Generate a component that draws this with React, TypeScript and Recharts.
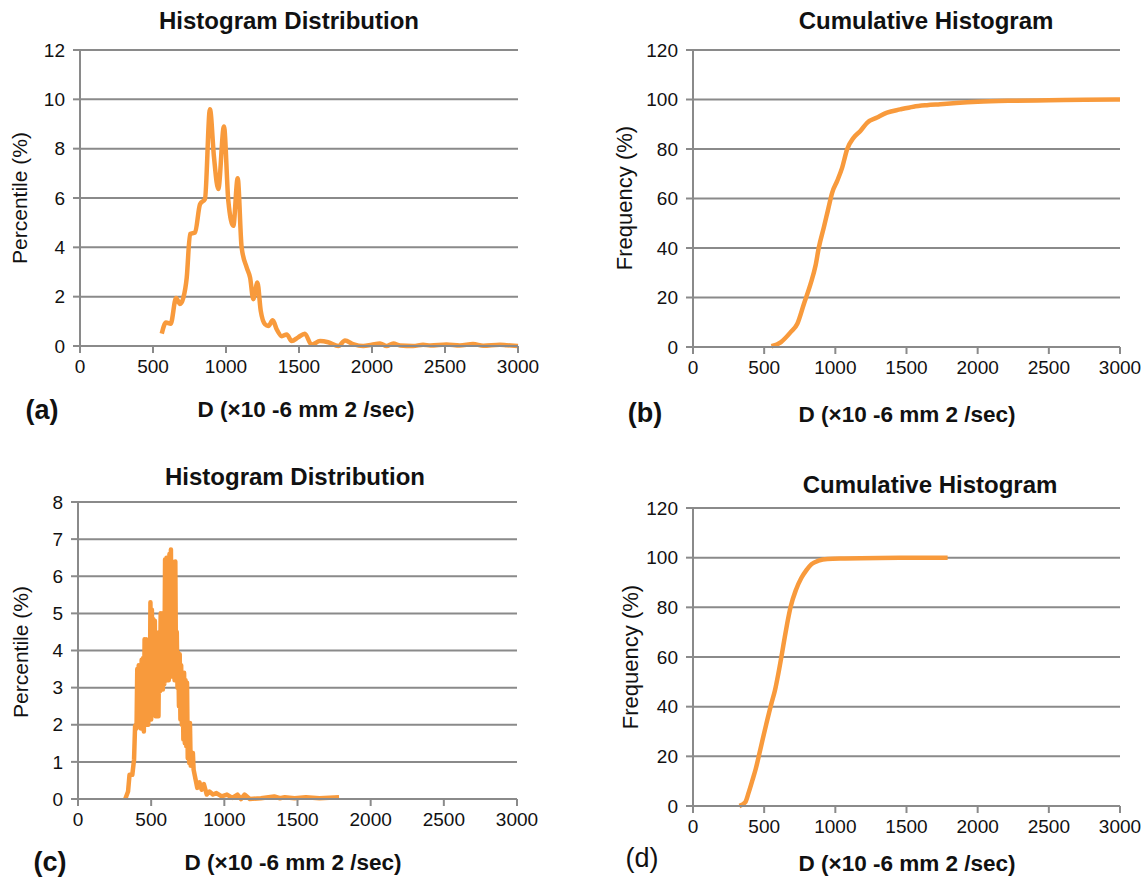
import React from 'react';
import { LineChart, Line, XAxis, YAxis, CartesianGrid } from 'recharts';

// (a) histogram distribution
const aD = [560, 589, 621, 658, 685, 708, 731, 754, 788, 822, 856, 890, 918, 947, 986, 1016, 1050, 1080, 1107, 1142, 1165, 1187, 1215, 1238, 1267, 1290, 1320, 1347, 1382, 1416, 1450, 1494, 1540, 1586, 1644, 1700, 1770, 1815, 1870, 1940, 1998, 2055, 2100, 2146, 2192, 2282, 2350, 2400, 2510, 2602, 2692, 2762, 2876, 2922, 3000];
const aPct = [0.5, 0.95, 0.9, 1.95, 1.7, 1.96, 2.77, 4.54, 4.6, 5.75, 5.96, 9.6, 7.64, 6.36, 8.9, 5.88, 4.87, 6.8, 4.0, 3.18, 2.77, 1.9, 2.57, 1.42, 0.88, 0.81, 1.04, 0.68, 0.4, 0.47, 0.2, 0.35, 0.5, 0.05, 0.2, 0.15, 0.0, 0.22, 0.08, 0.0, 0.05, 0.1, 0.0, 0.1, 0.02, 0.0, 0.05, 0.02, 0.06, 0.02, 0.08, 0.01, 0.05, 0.03, 0.0];

// (b) cumulative
const bD = [551, 616, 686, 733, 779, 826, 861, 884, 919, 947, 978, 1013, 1048, 1083, 1129, 1176, 1223, 1293, 1363, 1456, 1549, 1643, 1736, 1850, 2000, 2250, 2500, 2750, 3000];
const bFreq = [0.3, 1.9, 6, 9.4, 17.4, 25.5, 32.9, 40.2, 48.3, 55, 62.4, 67.1, 72.5, 79.9, 84.6, 87.3, 90.6, 92.7, 94.7, 96, 97.1, 97.7, 98.1, 98.6, 99.1, 99.5, 99.7, 99.9, 100];

// (c) histogram distribution (noisy, read as alternating highs / lows)
const cD = [
  323, 342, 352, 371, 383, 390,
  395, 400, 405, 410, 415, 420, 425, 430, 435, 440, 445, 450, 455, 460, 465, 470, 475, 480, 485, 490,
  495, 500, 505, 510, 515, 520, 525, 530, 535, 540, 545, 550, 555, 560, 565, 570, 575, 580, 585, 590,
  595, 600, 605, 610, 615, 620, 625, 630, 635, 640, 645, 650, 655, 660, 665, 670, 675, 680, 685, 690,
  695, 700, 705, 710, 715, 720, 725, 730, 735, 740, 745, 750, 755, 760, 765, 770, 775, 780, 785, 790,
  805, 815, 830, 845, 860, 880, 898, 922, 946, 982, 1018, 1054, 1090, 1114, 1138, 1174, 1250, 1341, 1380, 1413, 1480, 1557, 1650, 1784,
];
const cPct = [
  0, 0.2, 0.65, 0.65, 1.06, 1.96,
  2.0, 1.9, 3.5, 2.0, 3.6, 2.1, 3.5, 1.9, 3.75, 2.0, 3.8, 1.82, 4.3, 2.0, 4.3, 2.1, 3.9, 2.0, 3.8, 2.2,
  5.3, 2.14, 5.1, 2.3, 4.84, 2.3, 4.8, 2.23, 4.3, 2.3, 4.1, 2.23, 4.5, 2.9, 5.0, 3.0, 5.0, 2.95, 4.2, 3.1,
  6.45, 3.2, 6.5, 3.3, 6.45, 3.2, 6.6, 3.3, 6.72, 3.3, 6.4, 3.3, 6.36, 3.2, 6.4, 3.3, 4.5, 3.0, 3.94, 2.5,
  3.9, 2.14, 3.6, 2.0, 3.4, 1.6, 3.4, 1.5, 3.2, 1.42, 3.13, 1.1, 2.05, 0.97, 2.05, 0.9, 1.24, 0.88, 1.24, 0.79,
  0.5, 0.3, 0.45, 0.25, 0.4, 0.12, 0.2, 0.12, 0.16, 0.07, 0.12, 0.03, 0.12, 0, 0.12, 0, 0.02, 0.07, 0.02, 0.05, 0.02, 0.05, 0.02, 0.05,
];

// (d) cumulative
const dD = [326, 368, 392, 417, 441, 466, 490, 515, 551, 576, 600, 625, 645, 662, 686, 723, 760, 797, 833, 882, 944, 1066, 1311, 1789];
const dFreq = [0, 1.6, 5.6, 10.3, 15, 21, 27, 33, 41.3, 46.6, 53.4, 61.4, 68.1, 73.5, 80.2, 87, 91.7, 95, 97.4, 98.8, 99.5, 99.7, 99.9, 100];

const xTicks = [0, 500, 1000, 1500, 2000, 2500, 3000];
const pctTicksA = [0, 2, 4, 6, 8, 10, 12];
const pctTicksC = [0, 1, 2, 3, 4, 5, 6, 7, 8];
const freqTicks = [0, 20, 40, 60, 80, 100, 120];

const xLabel = 'D (×10 -6 mm 2 /sec)';
const FONT = '"Liberation Sans", Arial, Helvetica, sans-serif';
const ORANGE = '#F89A3C';
const GREY = '#8a8a8a';

const toPoints = (xs: number[], ys: number[]) => xs.map((x, i) => ({ x, y: ys[i] }));

function Txt({ x, y, size, bold, rotate, children }: any) {
  return (
    <div
      style={{
        position: 'absolute',
        left: x,
        top: y,
        transform: `translate(-50%, -50%)${rotate ? ' rotate(-90deg)' : ''}`,
        fontSize: size,
        fontWeight: bold ? 'bold' : 'normal',
        fontFamily: FONT,
        whiteSpace: 'nowrap',
        color: '#111',
      }}
    >
      {children}
    </div>
  );
}

function Panel({ left, top, width, height, margin, data, yDomain, yTicks, curve }: any) {
  const tick = { fontSize: 19, fill: '#111', fontFamily: FONT };
  return (
    <div style={{ position: 'absolute', left, top }}>
      <LineChart width={width} height={height} data={data} margin={margin}>
        <CartesianGrid horizontal vertical={false} stroke={GREY} strokeWidth={2} />
        <XAxis
          type="number"
          dataKey="x"
          domain={[0, 3000]}
          ticks={xTicks}
          interval={0}
          height={40}
          tickSize={7}
          tickMargin={7}
          tick={tick}
          axisLine={{ stroke: GREY, strokeWidth: 2 }}
          tickLine={{ stroke: GREY, strokeWidth: 2 }}
        />
        <YAxis
          type="number"
          domain={yDomain}
          ticks={yTicks}
          interval={0}
          width={60}
          tickSize={7}
          tickMargin={8}
          tick={tick}
          axisLine={{ stroke: GREY, strokeWidth: 2 }}
          tickLine={{ stroke: GREY, strokeWidth: 2 }}
        />
        <Line
          type={curve}
          dataKey="y"
          stroke={ORANGE}
          strokeWidth={4.5}
          strokeLinejoin="round"
          dot={false}
          isAnimationActive={false}
        />
      </LineChart>
    </div>
  );
}

export default function App() {
  return (
    <div style={{ position: 'absolute', left: 0, top: 0, width: 1148, height: 879, background: '#fff', overflow: 'hidden' }}>
      <Panel
        left={0} top={0} width={560} height={440}
        margin={{ top: 50, right: 42, left: 20, bottom: 54 }}
        data={toPoints(aD, aPct)} yDomain={[0, 12]} yTicks={pctTicksA} curve="monotone"
      />
      <Panel
        left={570} top={0} width={578} height={440}
        margin={{ top: 50, right: 28, left: 63, bottom: 53 }}
        data={toPoints(bD, bFreq)} yDomain={[0, 120]} yTicks={freqTicks} curve="monotone"
      />
      <Panel
        left={0} top={450} width={560} height={429}
        margin={{ top: 52, right: 43, left: 18, bottom: 40 }}
        data={toPoints(cD, cPct)} yDomain={[0, 8]} yTicks={pctTicksC} curve="linear"
      />
      <Panel
        left={570} top={450} width={578} height={429}
        margin={{ top: 58, right: 28, left: 63, bottom: 33 }}
        data={toPoints(dD, dFreq)} yDomain={[0, 120]} yTicks={freqTicks} curve="monotone"
      />

      <Txt x={289} y={21} size={24} bold>Histogram Distribution</Txt>
      <Txt x={926} y={21} size={24} bold>Cumulative Histogram</Txt>
      <Txt x={295} y={477} size={24} bold>Histogram Distribution</Txt>
      <Txt x={930} y={485} size={24} bold>Cumulative Histogram</Txt>

      <Txt x={20} y={198} size={21} rotate>Percentile (%)</Txt>
      <Txt x={625} y={198} size={22} rotate>Frequency (%)</Txt>
      <Txt x={21} y={652} size={21} rotate>Percentile (%)</Txt>
      <Txt x={631} y={657} size={22} rotate>Frequency (%)</Txt>

      <Txt x={306} y={410} size={22.5} bold>{xLabel}</Txt>
      <Txt x={907} y={415} size={22.5} bold>{xLabel}</Txt>
      <Txt x={293} y={863} size={22.5} bold>{xLabel}</Txt>
      <Txt x={907} y={864} size={22.5} bold>{xLabel}</Txt>

      <Txt x={42} y={410} size={27} bold>(a)</Txt>
      <Txt x={645} y={413} size={27} bold>(b)</Txt>
      <Txt x={50} y={862} size={27} bold>(c)</Txt>
      <Txt x={642} y={858} size={27}>(d)</Txt>
    </div>
  );
}
